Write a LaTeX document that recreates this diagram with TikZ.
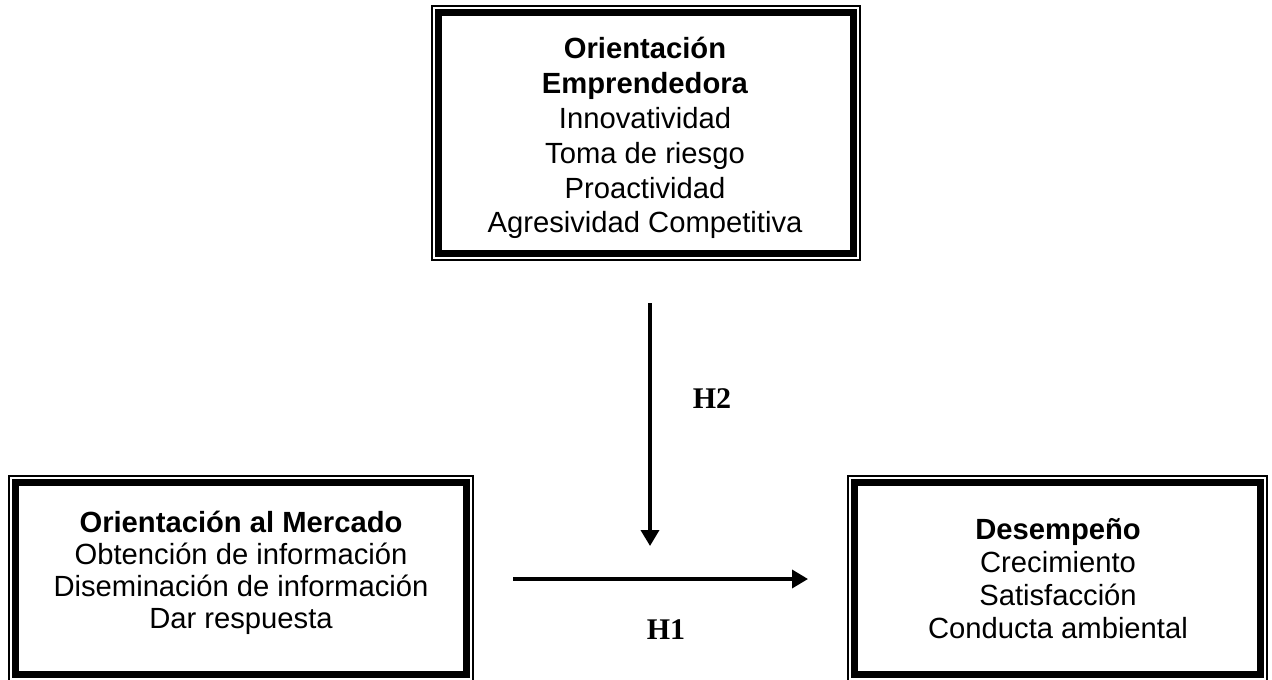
\documentclass[tikz,border=0pt]{standalone}
\usepackage{fontspec}
\setmainfont{Liberation Sans}
\newfontfamily\hypfont{Liberation Serif}
\usetikzlibrary{arrows.meta}
\begin{document}
\begin{tikzpicture}[x=0.5pt,y=-0.5pt,
  frame/.style={draw, line width=0.7pt, outer sep=0pt, inner sep=0pt},
  innerframe/.style={line width=3.2pt},
  boxtext/.style={align=center, inner sep=0pt, anchor=base},
  hyp/.style={font=\hypfont\bfseries\fontsize{15pt}{18pt}\selectfont, inner sep=0pt, anchor=base},
  link/.style={line width=1.8pt, -{Triangle[length=8pt,width=9pt]}}]
\useasboundingbox (0,0) rectangle (1272,679);

% boxes
\node[frame, minimum width=214pt, minimum height=127pt] (oe) at (646,133) {};
\node[frame, minimum width=232pt, minimum height=102.5pt] (om) at (241,578.5) {};
\node[frame, minimum width=209.5pt, minimum height=102.5pt] (de) at (1057.5,578.5) {};
\foreach \b in {oe,om,de}{
  \draw[innerframe] ([xshift=3.25pt,yshift=-3.25pt]\b.north west) rectangle ([xshift=-3.25pt,yshift=3.25pt]\b.south east);
}

% texts (anchored at the baseline of their last line)
\node[boxtext, font=\fontsize{14.6pt}{17.4pt}\selectfont] (oeT) at (645,233)
  {\textbf{Orientación}\\\textbf{Emprendedora}\\Innovatividad\\Toma de riesgo\\Proactividad\\Agresividad Competitiva};
\node[boxtext, font=\fontsize{14.6pt}{15.85pt}\selectfont] (omT) at (241,628)
  {\textbf{Orientación al Mercado}\\Obtención de información\\Diseminación de información\\Dar respuesta};
\node[boxtext, font=\fontsize{14.6pt}{16.35pt}\selectfont] (deT) at (1058,638)
  {\textbf{Desempeño}\\Crecimiento\\Satisfacción\\Conducta ambiental};

% connectors
\coordinate (v1) at (650,303);
\coordinate (v2) at (650,546);
\coordinate (h1) at (513,579);
\coordinate (h2) at (808,579);
\draw[link] (v1) -- (v2);
\draw[link] (h1) -- (h2);

\node[hyp] (H2) at (712,408) {H2};
\node[hyp] (H1) at (666,639) {H1};
\end{tikzpicture}
\end{document}
